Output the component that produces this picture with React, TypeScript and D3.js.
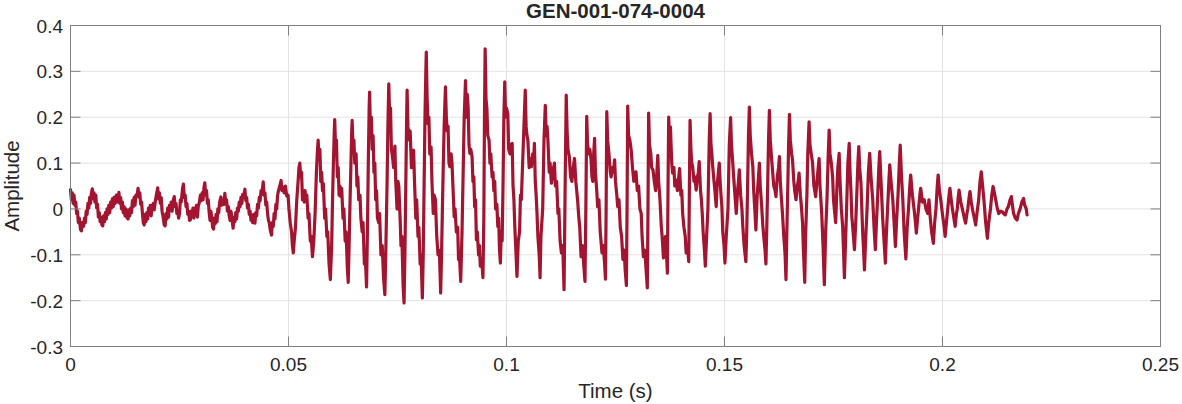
import React, { useEffect } from "react";
import * as d3 from "d3";

const title = "GEN-001-074-0004";
const xLabel = "Time (s)";
const yLabel = "Amplitude";
const xTicks = [0, 0.05, 0.1, 0.15, 0.2, 0.25];
const xTickLabels = ["0", "0.05", "0.1", "0.15", "0.2", "0.25"];
const yTicks = [-0.3, -0.2, -0.1, 0, 0.1, 0.2, 0.3, 0.4];
const yTickLabels = ["-0.3", "-0.2", "-0.1", "0", "0.1", "0.2", "0.3", "0.4"];

// waveform samples: [time (ms), amplitude]
const onsetNoise: [number, number][] = [
  [0, 0.042], [0.2, 0.02], [0.4, 0.035], [0.6, 0.012], [0.8, 0.03], [1.0, 0.008], [1.2, 0.015], [1.4, -0.01], [1.6, -0.005],
  [1.8, -0.03], [2.0, -0.02], [2.3, -0.045], [2.5, -0.048], [2.7, -0.03], [3.0, -0.038], [3.2, -0.02], [3.4, -0.03],
  [3.6, -0.005], [3.8, -0.012], [4.0, 0.012], [4.2, 0.002], [4.4, 0.025], [4.6, 0.012], [4.8, 0.035], [5.0, 0.044],
  [5.2, 0.022], [5.4, 0.035], [5.6, 0.015], [5.8, 0.03], [6.0, 0.002], [6.2, 0.01], [6.4, -0.018], [6.6, -0.008],
  [6.8, -0.028], [7.0, -0.018], [7.2, -0.035], [7.4, -0.037], [7.6, -0.015], [7.8, -0.028], [8.0, -0.008], [8.2, -0.022],
  [8.4, 0.0], [8.6, -0.012], [8.8, 0.008], [9.0, -0.008], [9.2, 0.015], [9.4, 0.002], [9.6, 0.022], [9.8, 0.005],
  [10.0, 0.025], [10.2, 0.012], [10.5, 0.03], [10.8, 0.015], [11.1, 0.036], [11.3, 0.012], [11.5, 0.025], [11.7, 0.0],
  [11.9, 0.015], [12.1, -0.008], [12.3, 0.005], [12.5, -0.015], [12.7, 0.0], [12.9, -0.018], [13.2, -0.022], [13.4, -0.002],
  [13.6, -0.015], [13.8, 0.002], [14.0, -0.008], [14.2, 0.018], [14.4, 0.005], [14.6, 0.025], [14.8, 0.008], [15.0, 0.03],
  [15.3, 0.032], [15.5, 0.045], [15.7, 0.025], [15.9, 0.035], [16.1, 0.01], [16.3, 0.015], [16.5, -0.01], [16.7, -0.03],
  [16.9, -0.035], [17.1, -0.012], [17.3, -0.028], [17.5, -0.008], [17.7, -0.022], [17.9, 0.002], [18.1, -0.01], [18.3, 0.008],
  [18.5, -0.015], [18.7, 0.005], [19.0, 0.012], [19.2, -0.002], [19.5, 0.02], [19.7, 0.03], [20.0, 0.046], [20.2, 0.022],
  [20.4, 0.035], [20.6, 0.012], [20.8, 0.025], [21.0, -0.005], [21.2, -0.015], [21.5, -0.035], [21.7, -0.037], [21.9, -0.01],
  [22.1, -0.022], [22.3, 0.002], [22.5, -0.018], [22.7, 0.008], [22.9, -0.002], [23.1, 0.015], [23.3, -0.005], [23.6, 0.02],
  [23.8, 0.027], [24.0, 0.005], [24.2, 0.012], [24.4, -0.01], [24.6, -0.005], [24.8, -0.02], [25.0, -0.01], [25.2, 0.02],
  [25.4, 0.015], [25.7, 0.045], [25.9, 0.054], [26.1, 0.025], [26.3, 0.03], [26.5, 0.005], [26.7, 0.012], [26.9, -0.012],
  [27.1, -0.005], [27.3, -0.025], [27.5, -0.024], [27.7, -0.005], [27.9, -0.015], [28.1, 0.002], [28.3, -0.02], [28.5, 0.002],
  [28.7, -0.008], [28.9, 0.008], [29.1, -0.018], [29.3, 0.005], [29.5, 0.012], [29.8, 0.03], [30.0, 0.018], [30.2, 0.035],
  [30.4, 0.02], [30.6, 0.045], [30.8, 0.057], [31.0, 0.03], [31.2, 0.04], [31.4, 0.012], [31.6, 0.02], [31.8, -0.008],
  [32.0, -0.025], [32.2, -0.005], [32.4, -0.02], [32.6, -0.04], [32.8, -0.044], [33.0, -0.02], [33.2, -0.032], [33.4, -0.012],
  [33.6, -0.028], [33.8, 0.0], [34.0, -0.008], [34.2, 0.015], [34.5, 0.026], [34.7, 0.008], [35.0, 0.02], [35.2, 0.01],
  [35.4, 0.034], [35.6, 0.012], [35.8, 0.02], [36.0, -0.005], [36.2, 0.005], [36.4, -0.015], [36.6, -0.025], [36.8, -0.005],
  [37.0, -0.018], [37.2, -0.035], [37.3, -0.042], [37.5, -0.018], [37.7, -0.028], [37.9, -0.008], [38.1, -0.022], [38.3, 0.002],
  [38.5, -0.005], [38.7, 0.015], [38.9, 0.005], [39.1, 0.025], [39.3, 0.012], [39.5, 0.032], [39.7, 0.025], [40.0, 0.043],
  [40.2, 0.018], [40.4, 0.025], [40.6, 0.002], [40.8, 0.01], [41.0, -0.012], [41.2, -0.005], [41.4, -0.025], [41.6, -0.015],
  [41.8, -0.03], [42.0, -0.012], [42.3, -0.031], [42.5, -0.008], [42.7, -0.015], [42.9, 0.01], [43.1, 0.002], [43.3, 0.025],
  [43.5, 0.018], [43.7, 0.04], [43.9, 0.032], [44.2, 0.059], [44.4, 0.03], [44.6, 0.035], [44.8, 0.008], [45.0, 0.015],
  [45.2, -0.01], [45.4, -0.025], [45.6, -0.03], [45.8, -0.045], [46.1, -0.057], [46.3, -0.03], [46.5, -0.038], [46.7, -0.01],
  [46.9, -0.022], [47.1, 0.01], [47.3, 0.0], [47.5, 0.03], [47.7, 0.04], [48.0, 0.05], [48.3, 0.062], [48.5, 0.04],
  [48.8, 0.048], [49.0, 0.035], [49.3, 0.05], [49.6, 0.028], [49.9, 0.03], [50.1, 0.0],
];

const voicedA: [number, number][] = [
  [50.4, -0.03], [50.7, -0.05], [50.9, -0.08], [51.1, -0.096], [51.3, -0.07], [51.6, -0.04], [51.9, 0.02], [52.2, 0.06],
  [52.4, 0.09], [52.6, 0.1], [52.8, 0.07], [53.0, 0.08], [53.2, 0.02], [53.4, 0.035], [53.6, 0.015], [53.8, 0.04],
  [54.0, 0.02], [54.2, 0.03], [54.5, -0.02], [54.7, -0.01], [55.0, -0.07], [55.2, -0.06], [55.5, -0.104],
  [55.8, -0.07], [56.1, -0.01], [56.4, 0.08], [56.6, 0.12], [56.8, 0.15], [57.0, 0.11], [57.2, 0.13], [57.4, 0.06],
  [57.6, 0.08], [57.8, 0.04], [58.0, 0.055], [58.3, -0.02], [58.5, 0.0], [58.8, -0.06], [59.0, -0.05], [59.3, -0.12], [59.6, -0.154],
  [59.9, -0.08], [60.1, 0.02], [60.3, 0.1], [60.5, 0.17], [60.6, 0.195], [60.8, 0.13], [61.0, 0.15], [61.2, 0.07],
  [61.4, 0.09], [61.6, 0.03], [61.8, 0.05], [62.0, 0.027], [62.2, 0.045], [62.5, -0.02], [62.7, 0.0], [63.0, -0.07],
  [63.2, -0.05], [63.5, -0.13], [63.7, -0.16],
  [63.9, -0.08], [64.1, 0.01], [64.3, 0.09], [64.5, 0.17], [64.6, 0.193], [64.8, 0.13], [65.0, 0.15], [65.2, 0.1],
  [65.5, 0.12], [65.7, 0.05], [65.9, 0.07], [66.1, 0.02], [66.4, 0.03], [66.6, -0.02], [66.9, -0.05], [67.1, -0.03],
  [67.4, -0.12], [67.6, -0.1], [67.9, -0.17],
  [68.1, -0.05], [68.3, 0.1], [68.5, 0.22], [68.6, 0.255], [68.8, 0.17], [69.0, 0.2], [69.2, 0.13], [69.4, 0.16],
  [69.6, 0.08], [69.8, 0.1], [70.0, 0.02], [70.2, 0.04], [70.4, -0.02], [70.7, -0.03], [70.9, -0.01], [71.2, -0.1],
  [71.5, -0.08], [71.8, -0.15], [72.1, -0.187],
  [72.3, -0.1], [72.6, 0.05], [72.8, 0.18], [73.0, 0.273], [73.2, 0.2], [73.4, 0.22], [73.6, 0.13], [73.9, 0.11],
  [74.1, 0.09], [74.4, 0.137], [74.6, 0.06], [74.9, 0.0], [75.1, 0.06], [75.3, 0.05], [75.6, -0.02], [75.8, -0.08],
  [76.0, -0.06], [76.3, -0.17], [76.5, -0.205],
  [76.7, -0.1], [76.9, 0.05], [77.1, 0.2], [77.2, 0.259], [77.4, 0.18], [77.7, 0.15], [77.9, 0.17], [78.2, 0.09],
  [78.4, 0.1], [78.7, 0.128], [78.9, 0.06], [79.2, -0.02], [79.4, 0.02], [79.7, -0.06], [79.9, -0.04], [80.2, -0.12],
  [80.4, -0.1], [80.7, -0.194],
  [80.9, -0.1], [81.1, 0.05], [81.3, 0.2], [81.5, 0.3], [81.6, 0.342], [81.8, 0.24], [82.0, 0.186], [82.2, 0.2],
  [82.4, 0.12], [82.7, 0.135], [82.9, 0.06], [83.2, -0.01], [83.4, 0.03], [83.7, 0.02], [84.0, -0.06], [84.3, -0.1],
  [84.6, -0.09], [84.9, -0.183],
  [85.1, -0.1], [85.4, 0.05], [85.7, 0.18], [86.0, 0.266], [86.2, 0.2], [86.4, 0.17], [86.6, 0.18], [86.8, 0.1],
  [87.0, 0.092], [87.3, 0.12], [87.5, 0.1], [87.8, 0.03], [88.0, -0.017], [88.2, 0.0], [88.5, -0.05], [88.8, -0.04],
  [89.0, -0.11], [89.2, -0.1], [89.5, -0.158],
  [89.8, -0.05], [90.1, 0.1], [90.3, 0.2],
];

const voicedB: [number, number][] = [
  [90.6, 0.28], [90.8, 0.2], [91.0, 0.25], [91.2, 0.222], [91.4, 0.14], [91.6, 0.121], [91.8, 0.13], [92.1, 0.114],
  [92.3, 0.06], [92.5, 0.07], [92.7, 0.005], [92.9, 0.02], [93.1, -0.067], [93.3, -0.05], [93.6, -0.1], [93.8, -0.08],
  [94.0, -0.125], [94.3, -0.11], [94.6, -0.15],
  [94.8, -0.02], [94.95, 0.2], [95.1, 0.349], [95.3, 0.24], [95.5, 0.22], [95.7, 0.16], [96.0, 0.15], [96.2, 0.1],
  [96.4, 0.12], [96.7, 0.07], [96.9, 0.08], [97.1, 0.04], [97.3, 0.06], [97.5, 0.0], [97.8, 0.01], [98.0, -0.038],
  [98.2, -0.02], [98.4, -0.09], [98.6, -0.118],
  [98.8, -0.05], [99.0, -0.07], [99.2, 0.05], [99.4, 0.2], [99.6, 0.277], [99.8, 0.2], [100.0, 0.22], [100.3, 0.208],
  [100.5, 0.13], [100.8, 0.12], [101.0, 0.14], [101.3, 0.143], [101.5, 0.05], [101.7, 0.02], [101.9, -0.038], [102.1, -0.08],
  [102.4, -0.147],
  [102.7, -0.07], [103.0, -0.05], [103.2, 0.03], [103.4, 0.02], [103.7, 0.1], [104.0, 0.18], [104.3, 0.259], [104.5, 0.18],
  [104.7, 0.16], [104.9, 0.15], [105.2, 0.09], [105.4, 0.11], [105.7, 0.092], [106.0, 0.12], [106.2, 0.1], [106.4, 0.143],
  [106.6, 0.06], [106.8, 0.03], [107.0, -0.01], [107.2, -0.06], [107.5, -0.1], [107.7, -0.15],
  [107.9, -0.06], [108.3, 0.0], [108.6, 0.15], [108.9, 0.226], [109.1, 0.16], [109.3, 0.18], [109.5, 0.15], [109.8, 0.08],
  [110.0, 0.1], [110.3, 0.056], [110.6, 0.08], [111.0, 0.1], [111.2, 0.05], [111.5, 0.06], [111.8, -0.01], [112.0, 0.0],
  [112.3, -0.07], [112.6, -0.096], [112.9, -0.08], [113.2, -0.176],
  [113.45, 0.05], [113.7, 0.248], [113.9, 0.17], [114.1, 0.13], [114.4, 0.114], [114.7, 0.07], [115.0, 0.06], [115.3, 0.09],
  [115.6, 0.11], [115.9, 0.06], [116.1, 0.04], [116.3, 0.02], [116.6, -0.02], [116.8, -0.04], [117.1, -0.104], [117.4, -0.08],
  [117.7, -0.12], [118.0, -0.158],
  [118.2, 0.0], [118.4, 0.202], [118.6, 0.14], [118.9, 0.12], [119.1, 0.13], [119.4, 0.107], [119.6, 0.07], [119.8, 0.06],
  [120.0, 0.12], [120.2, 0.154], [120.4, 0.08], [120.7, 0.04], [120.9, 0.005], [121.2, 0.02], [121.5, -0.05], [121.9, -0.096],
  [122.2, -0.08], [122.5, -0.12], [122.7, -0.153],
  [122.85, 0.0], [123.0, 0.212], [123.2, 0.15], [123.5, 0.12], [123.8, 0.08], [124.0, 0.07], [124.3, 0.09], [124.5, 0.08],
  [124.8, 0.107], [125.0, 0.06], [125.3, 0.03], [125.5, 0.005], [125.8, 0.02], [126.1, -0.04], [126.4, -0.06], [126.7, -0.11],
  [127.0, -0.09], [127.2, -0.13], [127.5, -0.167],
  [127.65, 0.0], [127.8, 0.224], [128.0, 0.16], [128.3, 0.15], [128.6, 0.128], [128.9, 0.09], [129.2, 0.06], [129.5, 0.07],
  [129.7, 0.081], [130.0, 0.04], [130.3, 0.05], [130.6, 0.0], [130.9, -0.01], [131.1, -0.06], [131.4, -0.104], [131.7, -0.09],
  [132.0, -0.13], [132.3, -0.172],
  [132.45, 0.0], [132.6, 0.209], [132.8, 0.14], [133.1, 0.12], [133.3, 0.09], [133.6, 0.085], [133.9, 0.06], [134.2, 0.04],
  [134.5, 0.08], [134.7, 0.117],
];

const voicedC: [number, number][] = [
  [134.9, 0.06], [135.2, 0.02], [135.5, -0.038], [135.7, -0.06], [136.0, -0.107], [136.2, -0.07], [136.5, -0.06], [136.7, -0.1],
  [136.9, -0.14], [137.05, 0.05], [137.2, 0.2], [137.4, 0.15], [137.6, 0.179], [137.9, 0.1], [138.1, 0.078], [138.4, 0.09],
  [138.6, 0.05], [138.9, 0.063], [139.2, 0.04], [139.5, 0.07], [139.7, 0.088], [140.0, 0.03], [140.2, 0.04], [140.4, -0.01],
  [140.7, -0.04], [141.0, -0.06], [141.2, -0.096], [141.5, -0.08], [141.8, -0.115],
  [141.95, 0.05], [142.1, 0.193], [142.3, 0.13], [142.5, 0.1], [142.7, 0.092], [143.0, 0.06], [143.2, 0.07], [143.5, 0.041],
  [143.8, 0.07], [144.0, 0.08], [144.2, 0.103], [144.5, 0.04], [144.7, 0.02], [144.9, -0.01], [145.1, -0.05], [145.4, -0.09],
  [145.6, -0.125],
  [145.9, -0.06], [146.2, 0.0], [146.5, 0.15], [146.7, 0.208], [146.9, 0.14], [147.1, 0.12], [147.3, 0.092], [147.6, 0.06],
  [147.8, 0.04], [148.1, 0.005], [148.3, 0.05], [148.6, 0.08], [148.8, 0.1], [149.0, 0.06], [149.2, 0.03], [149.4, 0.005],
  [149.6, -0.05], [149.9, -0.08], [150.1, -0.118],
  [150.4, -0.06], [150.8, 0.0], [151.1, 0.14], [151.4, 0.199], [151.6, 0.14], [151.9, 0.1], [152.1, 0.07], [152.4, 0.03],
  [152.7, -0.01], [153.0, 0.04], [153.2, 0.06], [153.4, 0.085], [153.7, 0.03], [154.0, 0.0], [154.2, -0.038], [154.5, -0.08],
  [154.9, -0.115],
  [155.1, -0.05], [155.3, 0.05], [155.5, 0.16], [155.7, 0.222], [155.9, 0.16], [156.2, 0.12], [156.5, 0.092], [156.7, 0.04],
  [157.0, -0.01], [157.2, -0.046], [157.5, 0.03], [157.8, 0.07], [158.0, 0.1], [158.2, 0.05], [158.5, 0.01], [158.8, -0.038],
  [159.1, -0.07], [159.3, -0.09], [159.5, -0.12],
  [159.7, -0.04], [159.9, 0.05], [160.1, 0.15], [160.3, 0.215], [160.5, 0.15], [160.8, 0.11], [161.0, 0.085], [161.3, 0.05],
  [161.6, 0.04], [161.8, 0.027], [162.1, 0.07], [162.4, 0.09], [162.6, 0.114], [162.8, 0.06], [163.0, 0.03], [163.3, -0.01],
  [163.6, -0.06], [163.9, -0.1], [164.1, -0.154],
  [164.3, -0.05], [164.5, 0.04], [164.7, 0.14], [164.9, 0.206], [165.1, 0.15], [165.4, 0.12], [165.6, 0.107], [165.9, 0.06],
  [166.1, 0.04], [166.4, 0.02], [166.7, 0.05], [166.9, 0.06], [167.1, 0.078], [167.4, 0.03], [167.6, 0.01], [167.9, -0.03],
  [168.1, -0.09], [168.4, -0.16],
  [168.6, -0.06], [168.9, 0.03], [169.1, 0.12], [169.4, 0.19], [169.6, 0.14], [169.9, 0.12], [170.2, 0.1], [170.5, 0.05],
  [170.7, 0.04], [170.9, 0.027], [171.2, 0.06], [171.4, 0.08], [171.7, 0.11], [171.9, 0.05], [172.1, 0.02], [172.3, -0.01],
  [172.6, -0.08], [172.9, -0.165],
  [173.2, -0.05], [173.5, 0.02], [173.8, 0.12], [174.0, 0.172], [174.2, 0.12], [174.5, 0.1], [174.8, 0.07], [175.0, 0.02],
  [175.2, 0.0], [175.5, -0.03], [175.8, 0.05], [176.0, 0.09], [176.3, 0.121], [176.5, 0.06], [176.8, 0.0], [177.1, -0.038],
  [177.3, -0.09], [177.5, -0.15],
];

const decay: [number, number][] = [
  [177.8, -0.06], [178.0, 0.0], [178.3, 0.1], [178.6, 0.143], [178.8, 0.08], [179.0, 0.04], [179.2, -0.017], [179.5, -0.05],
  [179.8, -0.089], [180.1, -0.03], [180.3, 0.02], [180.6, 0.1], [180.8, 0.136], [181.0, 0.09], [181.3, 0.056], [181.5, 0.0],
  [181.7, -0.053], [181.9, -0.09], [182.1, -0.133], [182.4, -0.06], [182.7, 0.0], [183.0, 0.08], [183.3, 0.121], [183.6, 0.07],
  [184.0, 0.02], [184.3, -0.04], [184.6, -0.089], [184.8, -0.04], [185.1, 0.02], [185.4, 0.09], [185.6, 0.125], [185.9, 0.06],
  [186.3, -0.024], [186.6, -0.07], [186.9, -0.118], [187.1, -0.06], [187.4, 0.0], [187.7, 0.06], [187.9, 0.096], [188.2, 0.06],
  [188.6, 0.02], [188.9, -0.03], [189.2, -0.082], [189.5, -0.02], [189.8, 0.03], [190.1, 0.1], [190.3, 0.139], [190.6, 0.07],
  [190.9, 0.02], [191.2, -0.05], [191.6, -0.109], [191.9, -0.04], [192.2, 0.0], [192.5, 0.05], [192.7, 0.074], [193.1, 0.03],
  [193.5, -0.002], [193.8, -0.03], [194.0, -0.053], [194.3, -0.02], [194.5, 0.0], [194.8, 0.03], [195.0, 0.045], [195.4, 0.015],
  [195.8, 0.02], [196.2, 0.0], [196.6, -0.01], [196.9, 0.02], [197.2, -0.02], [197.5, -0.05], [197.9, -0.075], [198.2, -0.03],
  [198.5, 0.0], [198.8, 0.05], [199.0, 0.074], [199.3, 0.04], [199.6, 0.02], [200.1, -0.02], [200.4, -0.04], [200.6, -0.06],
  [200.9, -0.03], [201.2, 0.0], [201.5, 0.03], [201.7, 0.045], [202.0, 0.02], [202.3, -0.002], [202.6, -0.02], [202.9, -0.038],
  [203.2, -0.01], [203.4, 0.0], [203.6, 0.025], [203.8, 0.041], [204.2, 0.015], [204.6, -0.002], [205.0, -0.02], [205.3, -0.031],
  [205.6, -0.01], [205.8, 0.0], [206.1, 0.025], [206.3, 0.038], [206.6, 0.015], [206.9, -0.002], [207.3, -0.02], [207.6, -0.035],
  [207.9, -0.01], [208.3, 0.02], [208.6, 0.06], [208.9, 0.081], [209.2, 0.05], [209.5, 0.02], [209.9, -0.03], [210.3, -0.064],
  [210.6, -0.03], [211.0, 0.0], [211.3, 0.03], [211.6, 0.049], [211.9, 0.035], [212.2, 0.02], [212.6, 0.0], [212.9, -0.01],
  [213.3, -0.005], [213.7, -0.006], [214.0, -0.01], [214.4, -0.013], [214.8, 0.0], [215.1, 0.005], [215.5, 0.02], [215.8, 0.027],
  [216.0, 0.01], [216.3, -0.01], [216.7, -0.02], [217.1, -0.024], [217.4, -0.01], [217.8, 0.0], [218.2, 0.015], [218.6, 0.023],
  [218.8, 0.01], [219.0, 0.005], [219.2, 0.0], [219.4, -0.013],
];

const W = 1182;
const H = 404;
const M = { left: 70.5, right: 1160.5, top: 25.5, bottom: 346.5 };
const FONT = "'Liberation Sans', Arial, Helvetica, sans-serif";
const LINE_COLOR = "#A2142F";
const AXIS_COLOR = "#808080";
const TEXT_COLOR = "#262626";
const GRID_COLOR = "#e3e3e3";

export default function App() {
  useEffect(() => {
    document.body.style.margin = "0";
  }, []);

  const x = d3.scaleLinear().domain([0, 0.25]).range([M.left, M.right]);
  const y = d3.scaleLinear().domain([-0.3, 0.4]).range([M.bottom, M.top]);

  const samples: [number, number][] = [...onsetNoise, ...voicedA, ...voicedB, ...voicedC, ...decay].map(
    ([ms, v]) => [ms / 1000, v] as [number, number]
  );
  const line = d3
    .line<[number, number]>()
    .x((d) => x(d[0]))
    .y((d) => y(d[1]));

  const tickLen = 10;

  return (
    <svg
      width={W}
      height={H}
      style={{ position: "absolute", left: 0, top: 0, background: "#fff" }}
      fontFamily={FONT}
    >
      <rect x={0} y={0} width={W} height={H} fill="#fff" />
      {xTicks.map((t, i) => (
        <line key={"gx" + i} x1={x(t)} x2={x(t)} y1={M.top} y2={M.bottom} stroke={GRID_COLOR} strokeWidth={1} />
      ))}
      {yTicks.map((t, i) => (
        <line key={"gy" + i} x1={M.left} x2={M.right} y1={y(t)} y2={y(t)} stroke={GRID_COLOR} strokeWidth={1} />
      ))}
      <path
        d={line(samples) || ""}
        fill="none"
        stroke={LINE_COLOR}
        strokeWidth={3.2}
        strokeLinejoin="round"
        strokeLinecap="round"
      />
      <rect
        x={M.left}
        y={M.top}
        width={M.right - M.left}
        height={M.bottom - M.top}
        fill="none"
        stroke={AXIS_COLOR}
        strokeWidth={1}
      />
      {xTicks.map((t, i) => (
        <g key={"tx" + i}>
          <line x1={x(t)} x2={x(t)} y1={M.bottom} y2={M.bottom - tickLen} stroke={AXIS_COLOR} />
          <line x1={x(t)} x2={x(t)} y1={M.top} y2={M.top + tickLen} stroke={AXIS_COLOR} />
          <text x={x(t)} y={371} textAnchor="middle" fontSize={19} fill={TEXT_COLOR}>
            {xTickLabels[i]}
          </text>
        </g>
      ))}
      {yTicks.map((t, i) => (
        <g key={"ty" + i}>
          <line x1={M.left} x2={M.left + tickLen} y1={y(t)} y2={y(t)} stroke={AXIS_COLOR} />
          <line x1={M.right} x2={M.right - tickLen} y1={y(t)} y2={y(t)} stroke={AXIS_COLOR} />
          <text x={63} y={y(t) + 7} textAnchor="end" fontSize={19} fill={TEXT_COLOR}>
            {yTickLabels[i]}
          </text>
        </g>
      ))}
      <text x={(M.left + M.right) / 2} y={18} textAnchor="middle" fontSize={20.5} fontWeight="bold" fill={TEXT_COLOR}>
        {title}
      </text>
      <text x={(M.left + M.right) / 2} y={398} textAnchor="middle" fontSize={20.5} fill={TEXT_COLOR}>
        {xLabel}
      </text>
      <text
        transform={`translate(18.5, ${(M.top + M.bottom) / 2}) rotate(-90)`}
        textAnchor="middle"
        fontSize={20.5}
        fill={TEXT_COLOR}
      >
        {yLabel}
      </text>
    </svg>
  );
}
